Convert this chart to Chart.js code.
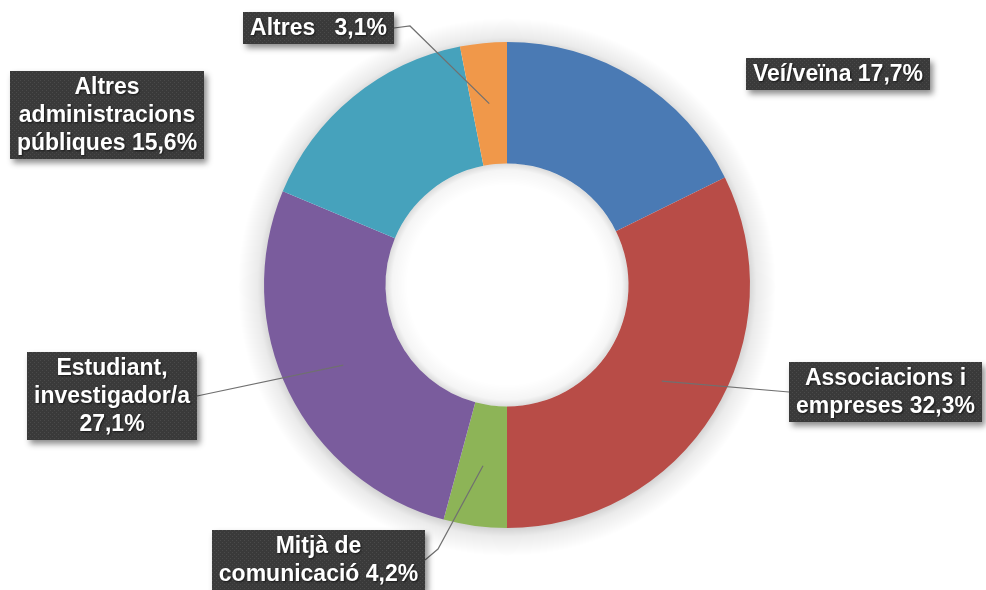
<!DOCTYPE html>
<html>
<head>
<meta charset="utf-8">
<script src="https://cdn.jsdelivr.net/npm/chart.js@4.4.1/dist/chart.umd.min.js"></script>
<style>
  html, body { margin: 0; padding: 0; background: #ffffff; }
  #wrap { width: 986px; height: 590px; position: relative; }
</style>
</head>
<body>
<div id="wrap"><canvas id="c" width="986" height="590"></canvas></div>
<script>
// ---- Data ----
const categories = ["Veí/veïna", "Associacions i empreses", "Mitjà de comunicació", "Estudiant, investigador/a", "Altres administracions públiques", "Altres"];
const values = [17.7, 32.3, 4.2, 27.1, 15.6, 3.1];
const colors = ["#4a7ab4", "#b84c47", "#8db457", "#7a5c9d", "#46a2bc", "#f0984a"];
// label text lines; {v} is replaced with the formatted value
const labelLines = [
  ["Veí/veïna {v}"],
  ["Associacions i", "empreses {v}"],
  ["Mitjà de", "comunicació {v}"],
  ["Estudiant,", "investigador/a", "{v}"],
  ["Altres", "administracions", "públiques {v}"],
  ["Altres   {v}"]
];

// ---- Layout for label boxes (top-left corners) and leader lines ----
const boxPos = [
  {x: 746, y: 58, leader: false},
  {x: 789, y: 362, leader: true, side: 'left'},
  {x: 212, y: 530, leader: true, side: 'right', elbow: [438, 549]},
  {x: 27,  y: 352, leader: true, side: 'right'},
  {x: 10,  y: 71,  leader: false},
  {x: 243, y: 12,  leader: true, side: 'right', elbow: [410, 26]}
];

function fmt(v) { return v.toFixed(1).replace('.', ',') + '%'; }

function makePattern(ctx) {
  const p = document.createElement('canvas');
  p.width = 4; p.height = 4;
  const pc = p.getContext('2d');
  pc.fillStyle = '#3a3a3a';
  pc.fillRect(0, 0, 4, 4);
  pc.fillStyle = '#4a4a4a';
  pc.fillRect(0, 0, 1, 1);
  pc.fillRect(2, 2, 1, 1);
  return ctx.createPattern(p, 'repeat');
}

const ringShadow = {
  id: 'ringShadow',
  beforeDatasetsDraw(chart) {
    const meta = chart.getDatasetMeta(0);
    if (!meta.data.length) return;
    const a = meta.data[0];
    const ctx = chart.ctx;
    const R = a.outerRadius;
    const cx = a.x, cy = a.y + 2;
    ctx.save();
    // outer soft halo (annulus only)
    const g1 = ctx.createRadialGradient(cx, cy, R - 4, cx, cy, R + 26);
    g1.addColorStop(0, 'rgba(0,0,0,0.20)');
    g1.addColorStop(0.35, 'rgba(0,0,0,0.08)');
    g1.addColorStop(1, 'rgba(0,0,0,0)');
    ctx.fillStyle = g1;
    ctx.beginPath();
    ctx.arc(cx, cy, R + 26, 0, Math.PI * 2);
    ctx.arc(cx, cy, R - 4, 0, Math.PI * 2, true);
    ctx.closePath();
    ctx.fill();
    ctx.restore();
  },
  afterDatasetsDraw(chart) {
    const meta = chart.getDatasetMeta(0);
    if (!meta.data.length) return;
    const a = meta.data[0];
    const ctx = chart.ctx;
    const r = a.innerRadius;
    const cx = a.x, cy = a.y;
    ctx.save();
    // inner hole shading
    const g2 = ctx.createRadialGradient(cx, cy, r - 22, cx, cy, r);
    g2.addColorStop(0, 'rgba(0,0,0,0)');
    g2.addColorStop(0.7, 'rgba(0,0,0,0.04)');
    g2.addColorStop(1, 'rgba(0,0,0,0.14)');
    ctx.fillStyle = g2;
    ctx.beginPath();
    ctx.arc(cx, cy, r, 0, Math.PI * 2);
    ctx.arc(cx, cy, Math.max(r - 22, 0), 0, Math.PI * 2, true);
    ctx.closePath();
    ctx.fill();
    ctx.restore();
  }
};

const boxLabels = {
  id: 'boxLabels',
  afterDatasetsDraw(chart) {
    const ctx = chart.ctx;
    const meta = chart.getDatasetMeta(0);
    const pattern = makePattern(ctx);
    const font = 'bold 23px "Liberation Sans", Arial, sans-serif';
    const lineH = 28;
    meta.data.forEach((arc, i) => {
      const lines = labelLines[i].map(s => s.replace('{v}', fmt(values[i])));
      const pos = boxPos[i];
      ctx.save();
      ctx.font = font;
      let w = 0;
      lines.forEach(l => { w = Math.max(w, ctx.measureText(l).width); });
      const bw = Math.round(w + 14);
      const bh = lines.length * lineH + 4;
      const bx = pos.x, by = pos.y;

      // leader line
      if (pos.leader) {
        const mid = (arc.startAngle + arc.endAngle) / 2;
        const r = (arc.innerRadius + arc.outerRadius) / 2;
        const ax = arc.x + Math.cos(mid) * r;
        const ay = arc.y + Math.sin(mid) * r;
        const ex = pos.side === 'left' ? bx : bx + bw;
        const ey = by + bh / 2;
        ctx.strokeStyle = '#707070';
        ctx.lineWidth = 1.2;
        ctx.beginPath();
        ctx.moveTo(ax, ay);
        if (pos.elbow) ctx.lineTo(pos.elbow[0], pos.elbow[1]);
        ctx.lineTo(ex, ey);
        ctx.stroke();
      }

      // box with shadow
      ctx.save();
      ctx.shadowColor = 'rgba(0,0,0,0.45)';
      ctx.shadowBlur = 6;
      ctx.shadowOffsetX = 3;
      ctx.shadowOffsetY = 4;
      ctx.fillStyle = '#3a3a3a';
      ctx.fillRect(bx, by, bw, bh);
      ctx.restore();
      ctx.fillStyle = pattern;
      ctx.fillRect(bx, by, bw, bh);

      // text
      ctx.fillStyle = '#ffffff';
      ctx.textAlign = 'center';
      ctx.textBaseline = 'middle';
      ctx.shadowColor = 'rgba(0,0,0,0.6)';
      ctx.shadowBlur = 2;
      ctx.shadowOffsetX = 1;
      ctx.shadowOffsetY = 1;
      lines.forEach((l, k) => {
        ctx.fillText(l, bx + bw / 2, by + 2 + lineH * k + lineH / 2 + 1);
      });
      ctx.restore();
    });
  }
};

new Chart(document.getElementById('c'), {
  type: 'doughnut',
  data: {
    labels: categories,
    datasets: [{
      data: values,
      backgroundColor: colors,
      borderWidth: 0,
      hoverOffset: 0
    }]
  },
  options: {
    responsive: false,
    animation: false,
    cutout: '50%',
    rotation: 0,
    layout: { padding: { top: 42, bottom: 62, left: 28, right: 0 } },
    plugins: {
      legend: { display: false },
      tooltip: { enabled: false },
      title: { display: false }
    }
  },
  plugins: [ringShadow, boxLabels]
});
</script>
</body>
</html>
